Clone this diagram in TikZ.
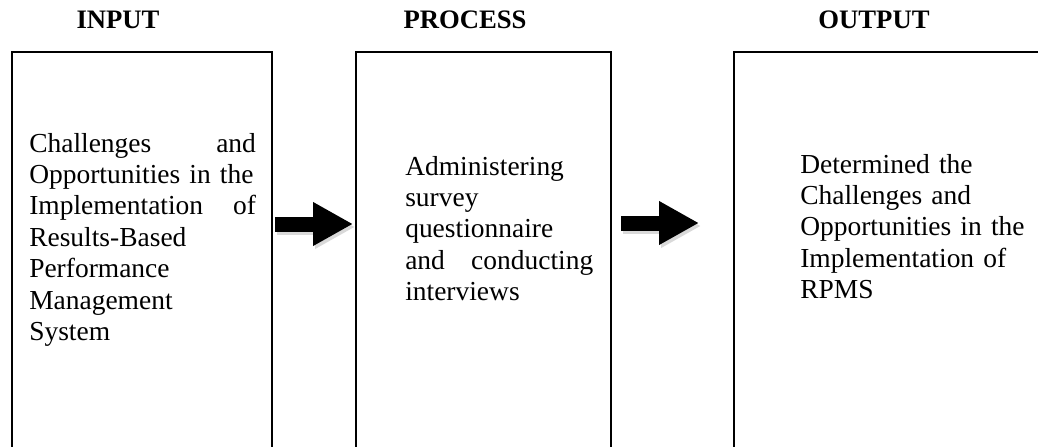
\documentclass[tikz,border=0pt]{standalone}
\usepackage{fontspec}
\setmainfont{Liberation Serif}
\usetikzlibrary{positioning, arrows.meta}

\begin{document}
\begin{tikzpicture}[x=0.75pt,y=-0.75pt,
  box/.style={draw, line width=1.2pt, anchor=north west, inner sep=0pt},
  title/.style={font=\fontsize{20}{24}\selectfont\bfseries, anchor=base},
  body/.style={font=\fontsize{20.6}{23.6}\selectfont, anchor=base west, inner sep=0pt, align=left},
  fat/.style={line width=11.25pt, -{Triangle[length=30pt,width=30.75pt]}},
  shade/.style={fat, black!15}]
\useasboundingbox (0,0) rectangle (1038,446);
\clip (0,0) rectangle (1038,446);
% headings
\node[title] (tin) at (118,28) {INPUT};
\node[title] (tproc) at (465,28) {PROCESS};
\node[title] (tout) at (874,28) {OUTPUT};
% the three boxes
\node[box, minimum width=195pt, minimum height=297pt] (in) at (11,51) {};
\node[box, minimum width=191.25pt, minimum height=297pt] (proc) at (355,51) {};
\node[box, minimum width=240pt, minimum height=297pt] (out) at (733,51) {};
% box texts
\node[body, text width=170pt] (inlbl) at (29,152) {Challenges \hfill and\\
  Opportunities in the\\ Implementation \hfill of\\ Results-Based\\
  Performance\\ Management\\ System};
\node[body, text width=141pt] (proclbl) at (405,175) {Administering\\ survey\\
  questionnaire\\ and \hfill conducting\\ interviews};
\node[body, text width=175pt] (outlbl) at (800,173) {Determined the\\
  Challenges and\\ Opportunities in the\\ Implementation of\\ RPMS};
% block arrows
\coordinate (a1s) at (275,224);
\coordinate (a1e) at (353,224);
\coordinate (a2s) at (621,223);
\coordinate (a2e) at (699,223);
\draw[shade] ([shift={(2,3)}]a1s) -- ([shift={(2,3)}]a1e);
\draw[shade] ([shift={(2,3)}]a2s) -- ([shift={(2,3)}]a2e);
\draw[fat] (a1s) -- (a1e);
\draw[fat] (a2s) -- (a2e);
\end{tikzpicture}
\end{document}
